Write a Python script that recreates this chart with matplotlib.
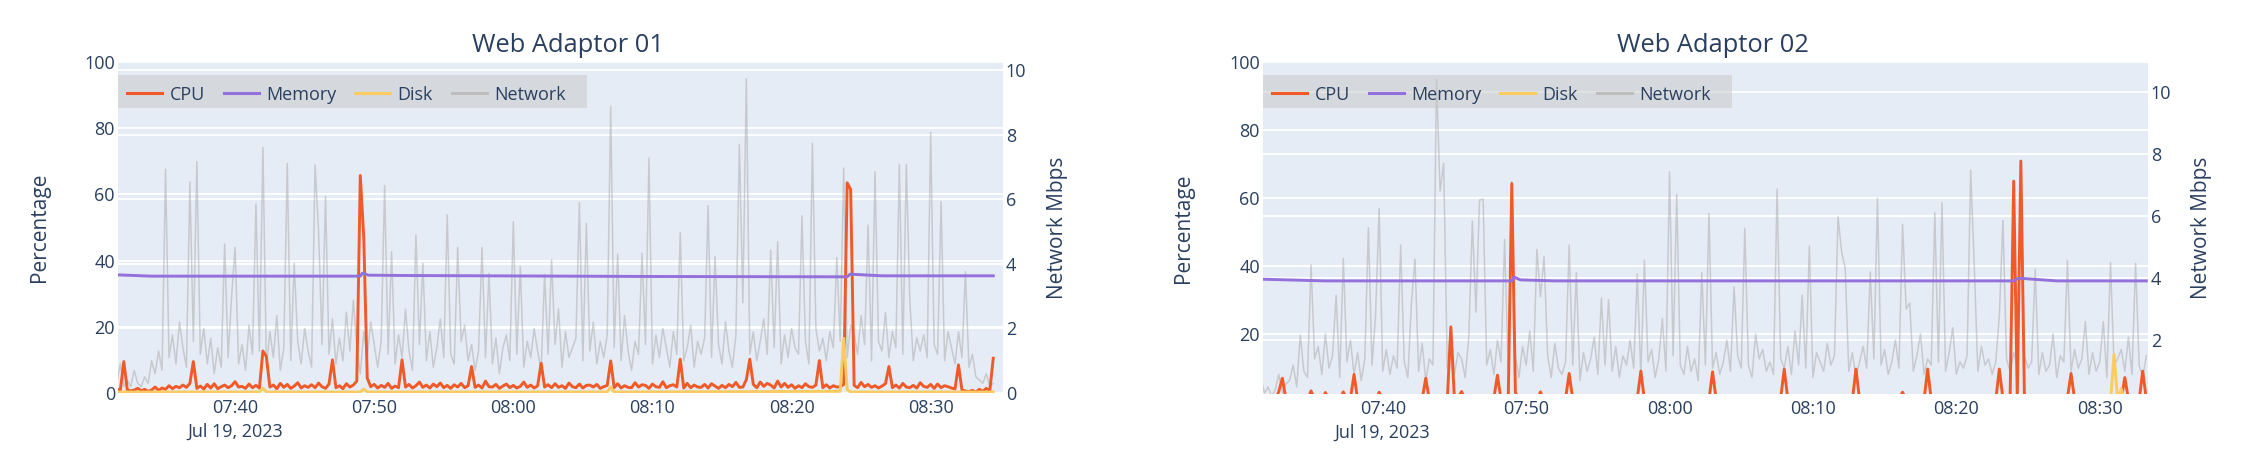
import numpy as np
import matplotlib
matplotlib.use('Agg')
import matplotlib.pyplot as plt
import matplotlib.dates as mdates
from matplotlib.lines import Line2D
from matplotlib.patches import Rectangle
from matplotlib.transforms import blended_transform_factory

plt.rcParams['font.family'] = ['Open Sans', 'DejaVu Sans']

# ---------------- data ----------------
DATE = '2023-07-19'
SAMPLE_START = '07:31:30'
SAMPLE_STEP_S = 15

titles = ['Web Adaptor 01', 'Web Adaptor 02']
series_names = ['CPU', 'Memory', 'Disk', 'Network']
x_tick_labels = ['07:40', '07:50', '08:00', '08:10', '08:20', '08:30']
date_label = 'Jul 19, 2023'
pct_ticks = [0, 20, 40, 60, 80, 100]
net_ticks = [0, 2, 4, 6, 8, 10]

# Web Adaptor 01 -- CPU % (15 s samples from 07:31:30)
wa1_cpu = [
    1.2, 0.8, 9.5, 1.0,  0.6, 0.9, 1.4, 0.7,  1.1, 0.5, 0.9, 1.8,  0.8, 1.5, 1.1, 2.2,
    1.3, 2.0, 1.6, 2.4,  1.7, 2.9, 9.5, 1.4,  2.1, 1.2, 2.6, 1.5,  2.8, 1.3, 1.9, 2.4,
    1.6, 2.2, 3.4, 1.8,  2.0, 1.4, 2.7, 1.6,  2.3, 1.5, 12.7, 11.0, 1.8, 2.4, 1.3, 2.9,
    1.7, 2.6, 1.4, 2.1,  3.1, 1.5, 2.2, 1.7,  2.5, 1.6, 3.0, 1.9,  1.4, 2.7, 10.0, 1.6,
    2.2, 1.3, 2.8, 1.8,  2.4, 3.6, 65.7, 47.0, 4.5, 1.9, 2.6, 1.5, 2.3, 1.7, 2.9, 1.4,
    2.1, 1.6, 10.0, 1.8, 2.6, 1.5, 2.2, 3.3,  1.7, 2.4, 1.5, 2.7,  1.9, 3.0, 1.6, 2.3,
    1.4, 2.5, 1.8, 2.9,  1.6, 2.2, 8.0, 1.7,  2.4, 1.5, 3.6, 1.9,  1.8, 2.6, 1.4, 2.1,
    2.7, 1.6, 2.3, 1.5,  2.0, 3.3, 1.7, 2.4,  1.5, 2.2, 9.0, 1.8,  2.5, 1.6, 2.8, 1.7,
    2.2, 1.4, 3.0, 1.9,  1.6, 2.7, 1.5, 2.3,  2.4, 1.8, 2.6, 1.4,  1.9, 2.3, 9.7, 1.6,
    2.8, 1.5, 2.2, 1.7,  1.6, 3.1, 1.8, 2.5,  2.3, 1.4, 2.7, 1.9,  1.7, 3.4, 1.6, 2.2,
    2.5, 1.8, 10.2, 1.5, 2.9, 1.6, 2.4, 1.8,  1.7, 2.6, 1.5, 2.8,  2.1, 1.4, 2.3, 1.6,
    2.6, 1.9, 3.2, 1.7,  1.8, 4.0, 10.2, 2.6, 1.6, 3.3, 2.0, 2.9,  2.4, 1.5, 3.6, 1.8,
    2.9, 1.7, 2.5, 1.4,  2.2, 1.6, 2.8, 1.9,  1.7, 2.4, 9.8, 1.6,  2.5, 1.5, 2.2, 1.8,
    1.9, 2.6, 63.5, 61.5, 2.3, 1.6, 3.2, 1.9, 2.6, 1.7, 2.2, 1.5,  2.1, 2.8, 8.0, 1.6,
    2.4, 1.5, 2.9, 1.8,  1.6, 2.3, 1.5, 3.1,  2.0, 1.7, 2.6, 1.4,  2.7, 1.6, 2.2, 1.9,
    1.5, 1.2, 8.5, 0.9,  0.6, 0.4, 0.8, 0.3,  1.1, 0.5, 1.4, 0.7,  10.5,
]

# Web Adaptor 01 -- Network Mbps (15 s samples from 07:31:30)
wa1_net = [
    0.3, 0.9, 0.2, 0.4,  0.2, 0.7, 0.3, 0.2,  0.5, 0.3, 1.0, 0.6,  1.3, 0.7, 6.94, 1.1,
    1.8, 0.9, 2.2, 1.4,  0.8, 6.55, 1.6, 7.17, 1.2, 2.0, 0.9, 1.7, 0.6, 1.4, 0.8, 4.62,
    1.1, 2.99, 4.52, 0.9, 1.5, 0.7, 2.1, 1.2, 5.86, 1.3, 7.61, 0.8, 1.9, 1.1, 2.4, 0.7,
    1.4, 7.12, 1.0, 4.02, 1.6, 0.9, 2.0, 1.3, 0.8, 7.07, 5.02, 1.5, 6.09, 1.2, 2.3, 0.9,
    1.7, 1.0, 2.5, 1.3,  2.88, 1.4, 0.6, 1.9, 1.1, 2.2, 1.5, 0.8, 1.6, 6.43, 1.2, 4.38,
    0.9, 1.8, 1.1, 2.6,  1.3, 0.7, 4.9, 1.5,  4.02, 1.0, 1.9, 0.8, 1.4, 2.3, 1.1, 5.52,
    1.2, 0.9, 4.51, 1.6, 2.1, 1.0, 1.5, 0.7,  1.3, 4.51, 1.1, 3.71, 0.9, 1.7, 0.6, 1.4,
    1.8, 1.0, 5.31, 1.2, 3.92, 0.8, 1.6, 1.1, 2.0, 1.3, 0.7, 3.68, 1.2, 4.12, 1.5, 2.6,
    0.8, 1.9, 1.1, 1.4,  1.7, 5.9, 1.0, 5.26, 1.3, 2.2, 0.9, 1.6,  1.1, 1.8, 8.88, 1.4,
    4.31, 1.0, 2.4, 1.3, 0.7, 1.6, 1.2, 4.33, 1.5, 7.28, 0.9, 1.8, 1.1, 2.0, 1.4, 0.8,
    1.9, 1.2, 4.97, 1.0, 1.4, 2.1, 0.8, 1.6,  1.2, 1.7, 5.81, 1.1, 4.23, 1.5, 0.9, 2.2,
    1.3, 0.8, 1.8, 7.71, 2.8, 9.74, 1.2, 1.9, 1.0, 1.6, 2.3, 1.2,  4.43, 1.4, 4.69, 0.9,
    1.8, 1.1, 2.0, 1.4,  1.2, 5.49, 1.6, 0.9, 7.74, 2.0, 1.3, 1.7, 1.0, 1.9, 1.4, 4.2,
    1.6, 6.97, 1.1, 2.1, 1.8, 1.2, 2.4, 1.5,  5.21, 1.0, 6.86, 1.6, 1.3, 2.5, 1.1, 1.9,
    1.4, 7.09, 1.2, 7.09, 2.9, 1.0, 1.7, 1.3, 1.8, 1.1, 8.08, 1.5, 1.2, 5.93, 1.0, 1.9,
    1.4, 0.9, 1.9, 1.1,  3.76, 0.8, 1.2, 0.5, 0.4, 0.3, 0.6, 0.2,  0.3,
]

wa1_mem_times = ['07:31:30', '07:34:00', '07:49:00', '07:49:09', '07:49:36', '07:52:00',
                 '08:10:00', '08:24:00', '08:24:12', '08:26:30', '08:34:30']
wa1_mem = [35.7, 35.3, 35.3, 36.2, 35.6, 35.5, 35.2, 35.1, 35.9, 35.4, 35.4]

wa1_disk_times = ['07:31:30', '07:41:45', '07:42:00', '07:42:15', '07:49:00', '07:49:15',
                  '07:49:30', '08:06:45', '08:07:00', '08:07:15', '08:23:30', '08:23:45',
                  '08:24:00', '08:24:15', '08:34:30']
wa1_disk = [0.3, 0.3, 1.5, 0.3, 0.3, 1.2, 0.3, 0.3, 1.8, 0.3, 0.5, 16.5, 1.0, 0.3, 0.3]

# Web Adaptor 02 -- CPU % (15 s samples from 07:31:30)
wa2_cpu = [
    0.5, 0.8, 0.4, 1.2,  0.6, 3.2, 7.1, 0.9,  0.7, 1.4, 0.5, 1.0,  1.8, 0.6, 3.4, 0.8,
    1.1, 0.5, 2.9, 0.7,  1.3, 0.9, 0.6, 3.1,  0.8, 1.2, 8.2, 0.7,  1.0, 0.5, 1.5, 0.9,
    0.6, 3.0, 0.8, 1.1,  1.4, 0.7, 1.0, 0.5,  0.9, 1.6, 0.6, 1.2,  0.7, 1.0, 7.1, 0.8,
    1.3, 0.6, 1.1, 0.9,  0.5, 22.2, 0.8, 1.4, 3.2, 0.7, 1.0, 0.6,  1.2, 0.8, 1.5, 0.5,
    0.9, 1.3, 8.0, 0.7,  1.1, 0.6, 64.3, 3.0, 0.8, 1.2, 0.5, 0.9,  1.4, 0.7, 3.1, 0.6,
    1.0, 0.5, 1.3, 0.8,  0.6, 1.1, 8.5, 0.9,  1.2, 0.7, 1.0, 0.5,  0.9, 1.5, 0.6, 1.1,
    0.7, 1.0, 0.8, 1.3,  1.1, 0.6, 1.4, 0.8,  0.5, 1.2, 9.2, 0.7,  1.0, 0.8, 1.3, 0.6,
    1.4, 0.9, 0.5, 1.1,  0.7, 1.2, 0.9, 1.5,  1.0, 0.6, 1.1, 0.8,  1.3, 0.7, 9.0, 1.0,
    0.6, 1.4, 0.8, 1.1,  0.9, 0.5, 1.2, 0.7,  1.5, 0.8, 1.0, 0.6,  1.1, 0.9, 1.4, 0.7,
    0.8, 1.2, 9.8, 0.9,  1.0, 0.6, 1.3, 0.8,  1.4, 0.7, 1.1, 0.5,  0.9, 1.3, 0.6, 1.2,
    0.7, 1.0, 0.8, 1.5,  1.2, 0.6, 9.8, 0.9,  0.8, 1.1, 0.7, 1.4,  1.0, 0.5, 1.3, 0.8,
    1.5, 0.9, 1.1, 3.0,  0.7, 1.2, 0.6, 1.0,  1.1, 0.8, 9.8, 0.7,  0.9, 1.3, 0.6, 1.2,
    0.6, 1.0, 0.8, 1.4,  1.2, 0.7, 1.1, 0.9,  0.8, 1.5, 0.6, 1.0,  1.0, 0.7, 9.8, 1.1,
    0.9, 1.3, 65.0, 1.5, 70.9, 1.2, 0.8, 1.0, 0.7, 1.4, 0.9, 0.6,  1.1, 0.8, 1.2, 0.7,
    0.9, 1.3, 8.5, 0.8,  1.2, 0.6, 1.0, 1.4,  0.7, 1.1, 0.8, 1.2,  1.0, 0.6, 1.3, 0.9,
    0.8, 7.3, 1.0, 0.6,  1.1, 0.7, 9.2, 0.9,
]

# Web Adaptor 02 -- Network Mbps (15 s samples from 07:31:30)
wa2_net = [
    0.8, 0.3, 0.5, 0.2,  0.4, 0.9, 0.3, 0.6,  0.7, 1.2, 0.5, 2.17, 1.0, 0.8, 4.42, 1.4,
    1.8, 0.9, 2.2, 1.1,  1.5, 3.45, 0.8, 4.63, 1.3, 2.0, 0.9, 1.6, 0.7, 1.4, 5.62, 1.2,
    2.8, 6.24, 1.0, 1.7, 0.9, 1.5, 1.1, 5.06, 1.3, 0.8, 3.2, 4.61, 1.0, 1.9, 0.7, 1.4,
    1.2, 10.4, 6.8, 7.69, 1.1, 2.4, 0.9, 1.6, 1.4, 0.8, 2.1, 5.83, 2.9, 6.51, 6.54, 1.2,
    1.7, 0.9, 2.0, 1.3,  5.24, 1.1, 7.1, 1.5, 0.8, 1.8, 1.2, 2.3,  1.0, 4.92, 3.4, 4.69,
    1.5, 0.8, 1.9, 1.1,  0.9, 1.3, 5.06, 1.2, 4.17, 0.7, 1.6, 1.0, 1.4, 2.1, 0.9, 3.35,
    1.2, 3.31, 1.0, 1.8, 0.8, 1.5, 1.2, 2.0,  1.1, 4.13, 0.9, 4.58, 1.3, 1.7, 0.8, 1.4,
    2.7, 1.0, 7.42, 1.5, 6.69, 1.2, 0.9, 1.8, 1.0, 1.4, 0.7, 4.18, 1.2, 6.08, 1.1, 1.6,
    0.9, 1.3, 2.0, 1.0,  3.72, 1.5, 1.1, 5.6, 1.2, 0.8, 2.2, 1.4,  1.7, 1.0, 1.3, 0.9,
    6.86, 1.4, 1.1, 1.8, 0.9, 2.3, 1.2, 3.45, 1.1, 5.03, 0.8, 1.6, 1.3, 1.0, 1.9, 1.2,
    1.5, 5.97, 4.85, 4.31, 1.0, 1.6, 0.8, 1.3, 1.8, 1.1, 4.2, 1.4, 6.56, 1.2, 1.7, 0.9,
    1.3, 2.0, 1.1, 5.73, 3.0, 3.2, 1.0, 1.5,  2.2, 0.9, 1.4, 1.2,  6.1, 1.3, 6.42, 1.0,
    1.6, 2.4, 0.9, 1.3,  1.1, 1.5, 7.47, 4.42, 1.0, 1.8, 1.2, 1.4, 0.9, 1.3, 2.8, 5.86,
    1.4, 1.0, 1.6, 1.2,  7.2, 1.5, 1.1, 1.3,  4.28, 0.9, 1.6, 1.0, 1.2, 2.2, 0.8, 1.5,
    1.3, 4.56, 1.0, 1.7, 1.1, 1.4, 2.6, 0.9,  1.6, 1.0, 1.3, 2.6,  0.8, 4.5, 1.2, 1.4,
    1.7, 1.0, 2.1, 0.9,  4.47, 1.2, 0.8, 1.5,
]

wa2_mem_times = ['07:31:30', '07:36:00', '07:49:00', '07:49:09', '07:49:36', '07:52:00',
                 '08:24:00', '08:24:20', '08:27:00', '08:33:15']
wa2_mem = [36.2, 35.7, 35.7, 36.8, 36.0, 35.7, 35.7, 36.5, 35.7, 35.7]

wa2_disk_times = ['07:31:30', '08:30:45', '08:31:00', '08:31:15', '08:31:30', '08:31:45', '08:33:15']
wa2_disk = [0.2, 0.2, 14.1, 0.6, 4.0, 0.2, 0.2]

# ---------------- styling / layout ----------------
TEXT = '#2a3f5f'
BG = '#E5ECF6'
C_CPU = '#EF5A28'
C_MEM = '#9370DB'
C_DISK = '#FACB5E'
C_NET = '#A9A9A9'

W, H = 2250, 462
fig = plt.figure(figsize=(W / 100, H / 100), dpi=100)
fig.patch.set_facecolor('white')


def t64(s):
    return np.datetime64(f'{DATE}T{s}')


def sampled_times(n):
    return t64(SAMPLE_START) + np.arange(n) * np.timedelta64(SAMPLE_STEP_S, 's')


panels = [
    dict(title=titles[0], cpu=wa1_cpu, net=wa1_net, mem_t=wa1_mem_times, mem=wa1_mem,
         disk_t=wa1_disk_times, disk=wa1_disk,
         px=(118, 1003, 62, 393), xlim=('07:31:35', '08:35:12'),
         ylim=(0, 100), y2lim=(0, 10.26), title_dx=7),
    dict(title=titles[1], cpu=wa2_cpu, net=wa2_net, mem_t=wa2_mem_times, mem=wa2_mem,
         disk_t=wa2_disk_times, disk=wa2_disk,
         px=(1263, 2148, 62, 394), xlim=('07:31:39', '08:33:22'),
         ylim=(2.47, 100), y2lim=(0.27, 10.95), title_dx=7),
]

GRID_LW = 1.3
for p in panels:
    x0, x1, y0, y1 = p['px']
    w, h = x1 - x0, y1 - y0
    rect = [x0 / W, 1 - y1 / H, w / W, h / H]
    ax = fig.add_axes(rect)          # percentage axis (left)
    ax2 = ax.twinx()                 # network axis (right)
    ax.set_zorder(2)
    ax2.set_zorder(1)
    ax.patch.set_visible(False)
    ax2.patch.set_visible(True)
    ax2.set_facecolor(BG)

    xl = (mdates.date2num(t64(p['xlim'][0])), mdates.date2num(t64(p['xlim'][1])))

    # grid lines (all in background axis)
    ax2.grid(True, axis='both', color='white', lw=GRID_LW, zorder=0)
    ax2.set_axisbelow(True)
    btf = blended_transform_factory(ax2.transAxes, ax.transData)
    for v in pct_ticks:
        if p['ylim'][0] < v <= p['ylim'][1]:
            ax2.add_line(Line2D([0, 1], [v, v], transform=btf, color='white', lw=GRID_LW, zorder=0.5))

    # network on background axis
    net_t = sampled_times(len(p['net']))
    ax2.plot(net_t, p['net'], color=C_NET, lw=1.1, alpha=0.5, zorder=2)

    # percentage series
    cpu_t = sampled_times(len(p['cpu']))
    ax.plot(cpu_t, p['cpu'], color=C_CPU, lw=2.1, zorder=3, solid_joinstyle='round')
    mem_t = np.array([t64(s) for s in p['mem_t']])
    ax.plot(mem_t, p['mem'], color=C_MEM, lw=2.1, zorder=4)
    disk_t = np.array([t64(s) for s in p['disk_t']])
    ax.plot(disk_t, p['disk'], color=C_DISK, lw=2.1, zorder=5)

    # x ticks
    xt = [mdates.date2num(t64(s + ':00')) for s in x_tick_labels]
    labels = list(x_tick_labels)
    labels[0] = labels[0] + '\n' + date_label
    ax.set_xticks(xt)
    ax.set_xticklabels(labels, linespacing=1.4)
    ax.set_yticks(pct_ticks)
    ax.set_yticklabels([str(v) for v in pct_ticks])
    ax2.set_yticks(net_ticks)
    ax2.set_yticklabels([str(v) for v in net_ticks])
    ax.set_xlim(xl)
    ax.set_ylim(p['ylim'])
    ax2.set_ylim(p['y2lim'])

    for a in (ax, ax2):
        for s in a.spines.values():
            s.set_visible(False)
        a.tick_params(length=0, labelsize=13, colors=TEXT)
    ax.tick_params(axis='y', pad=2.2)
    ax2.tick_params(axis='y', pad=2.0)
    ax.tick_params(axis='x', pad=4.2)

    # axis titles
    ax.text(-79 / w, 0.5, 'Percentage', transform=ax.transAxes,
            rotation=90, ha='center', va='center', fontsize=15, color=TEXT)
    ax.text(1 + 54 / w, 0.5, 'Network Mbps', transform=ax.transAxes,
            rotation=90, ha='center', va='center', fontsize=15, color=TEXT)

    # title
    fig.text((x0 + w / 2 + p['title_dx']) / W, 1 - 52.5 / H, p['title'], ha='center',
             va='baseline', fontsize=18.4, color=TEXT)

    # legend box (semi-transparent) and legend entries
    lx0, lx1, ly0, ly1 = x0, x0 + 469, 75, 108
    ax.add_patch(Rectangle((lx0 / W, 1 - ly1 / H), (lx1 - lx0) / W, (ly1 - ly0) / H,
                           transform=fig.transFigure, facecolor=(0.78, 0.78, 0.78), alpha=0.5,
                           edgecolor='none', zorder=4.5, clip_on=False))
    handles = [Line2D([0], [0], color=c, lw=2.2) for c in (C_CPU, C_MEM, C_DISK, '#BDBDBD')]
    ax.legend(handles, series_names, loc='center left',
              bbox_to_anchor=((lx0 + 9 - x0) / w, (y1 - (ly0 + ly1) / 2 - 3) / h),
              ncol=4, frameon=False, fontsize=13, labelcolor=TEXT,
              handlelength=1.95, handletextpad=0.4, columnspacing=1.05,
              borderpad=0, borderaxespad=0)

fig.savefig('out.png', dpi=100, facecolor='white')
